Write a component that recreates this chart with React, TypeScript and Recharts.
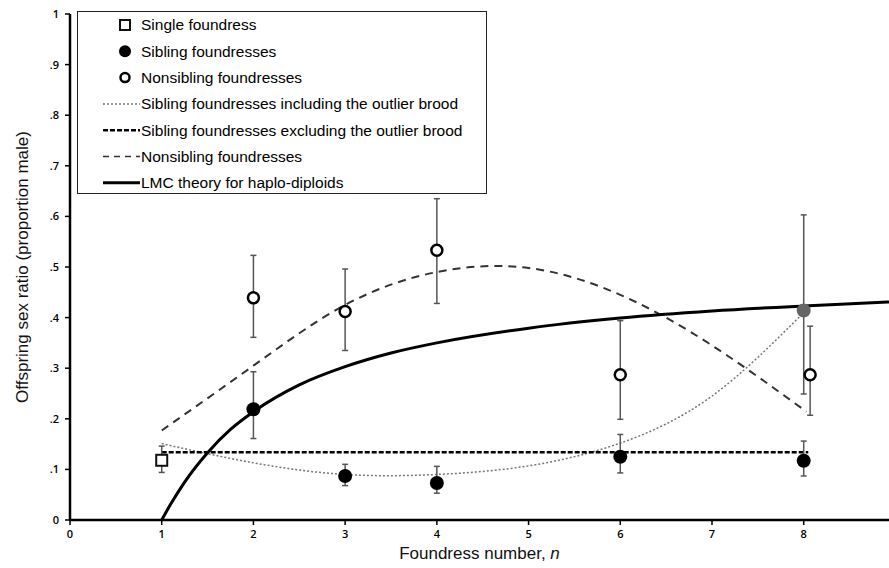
import {
  ComposedChart,
  Line,
  Scatter,
  ErrorBar,
  XAxis,
  YAxis,
  Legend,
  Label,
} from "recharts";

// x ticks / y ticks
const xTicks = [0, 1, 2, 3, 4, 5, 6, 7, 8];
const yTicks = [0, 0.1, 0.2, 0.3, 0.4, 0.5, 0.6, 0.7, 0.8, 0.9, 1];

// observed broods: mean and error bar ends
const singleX = [1];
const singleY = [0.118];
const singleLo = [0.094];
const singleHi = [0.146];

const siblingX = [2, 3, 4, 6, 8];
const siblingY = [0.219, 0.087, 0.073, 0.125, 0.117];
const siblingLo = [0.161, 0.068, 0.053, 0.093, 0.087];
const siblingHi = [0.293, 0.11, 0.106, 0.169, 0.156];

const outlierX = [8];
const outlierY = [0.414];
const outlierLo = [0.249];
const outlierHi = [0.603];

const nonsibX = [2, 3, 4, 6, 8.07];
const nonsibY = [0.439, 0.412, 0.533, 0.287, 0.287];
const nonsibLo = [0.361, 0.335, 0.428, 0.199, 0.207];
const nonsibHi = [0.523, 0.496, 0.635, 0.394, 0.383];

// fitted curves
const sibInclX = [1, 2, 3, 4, 5, 6, 7, 8];
const sibInclY = [0.151, 0.113, 0.09, 0.09, 0.107, 0.152, 0.245, 0.41];

const sibExclX = [1, 8.05];
const sibExclY = [0.134, 0.134];

const nonsibFitX = [1, 2, 3, 4, 5, 6, 7, 8.03];
const nonsibFitY = [0.177, 0.305, 0.425, 0.49, 0.498, 0.445, 0.345, 0.214];

const lmcX = [1, 1.1, 1.25, 1.5, 1.75, 2, 2.5, 3, 3.5, 4, 5, 6, 7, 8, 8.93];
const lmcY = [0, 0.032, 0.075, 0.133, 0.179, 0.214, 0.267, 0.303, 0.33, 0.35, 0.379, 0.399, 0.413, 0.423, 0.431];

const legendLabels = [
  "Single foundress",
  "Sibling foundresses",
  "Nonsibling foundresses",
  "Sibling foundresses including the outlier brood",
  "Sibling foundresses excluding the outlier brood",
  "Nonsibling foundresses",
  "LMC theory for haplo-diploids",
];

const toLine = (xs: number[], ys: number[]) => xs.map((x, i) => ({ x, y: ys[i] }));
const toPoints = (xs: number[], ys: number[], lo: number[], hi: number[]) =>
  xs.map((x, i) => ({ x, y: ys[i], err: [ys[i] - lo[i], hi[i] - ys[i]] }));

const SquareDot = (p: any) => (
  <rect x={p.cx - 5.5} y={p.cy - 5.5} width={11} height={11} fill="#fff" stroke="#111" strokeWidth={2} />
);
const FilledDot = (p: any) => <circle cx={p.cx} cy={p.cy} r={7} fill="#000" />;
const GreyDot = (p: any) => <circle cx={p.cx} cy={p.cy} r={7} fill="#666" />;
const OpenDot = (p: any) => (
  <circle cx={p.cx} cy={p.cy} r={5.5} fill="#fff" stroke="#000" strokeWidth={2.5} />
);

function LegendBox() {
  const rowY = (i: number) => 13 + i * 26.3;
  return (
    <div
      style={{
        width: 410,
        height: 183,
        boxSizing: "border-box",
        border: "1.5px solid #222",
        background: "#fff",
      }}
    >
      <svg width={407} height={180} style={{ display: "block" }}>
        <rect x={42} y={rowY(0) - 5} width={10} height={10} fill="#fff" stroke="#111" strokeWidth={2} />
        <circle cx={47} cy={rowY(1)} r={6} fill="#000" />
        <circle cx={47} cy={rowY(2)} r={4.5} fill="#fff" stroke="#000" strokeWidth={2.5} />
        <line x1={25} x2={62} y1={rowY(3)} y2={rowY(3)} stroke="#777" strokeWidth={1.5} strokeDasharray="2 2" />
        <line x1={25} x2={62} y1={rowY(4)} y2={rowY(4)} stroke="#000" strokeWidth={2.5} strokeDasharray="5 2" />
        <line x1={25} x2={62} y1={rowY(5)} y2={rowY(5)} stroke="#333" strokeWidth={1.5} strokeDasharray="6 5" />
        <line x1={25} x2={62} y1={rowY(6)} y2={rowY(6)} stroke="#000" strokeWidth={3} />
        {legendLabels.map((t, i) => (
          <text
            key={i}
            x={63}
            y={rowY(i)}
            dy="0.35em"
            fontFamily="Liberation Sans, Arial, sans-serif"
            fontSize={15.5}
            fill="#000"
          >
            {t}
          </text>
        ))}
      </svg>
    </div>
  );
}

const tickStyle = { fontSize: 11, fill: "#000", fontFamily: "Open Sans, sans-serif", fontWeight: 600 };
const fmtY = (v: number) => (v === 0 ? "0" : v === 1 ? "1" : String(Math.round(v * 10) / 10).replace(/^0/, ""));

export default function App() {
  return (
    <div style={{ position: "absolute", left: 0, top: 0, background: "#fff" }}>
      <ComposedChart width={889} height={568} margin={{ top: 14, right: 0, bottom: 18, left: 30 }}>
        <XAxis
          type="number"
          dataKey="x"
          domain={[0, 8.93]}
          ticks={xTicks}
          allowDataOverflow
          height={30}
          tick={tickStyle}
          tickSize={5}
          tickMargin={5}
          axisLine={{ stroke: "#000", strokeWidth: 2.5 }}
          tickLine={{ stroke: "#000", strokeWidth: 1.5 }}
        >
          <Label
            content={({ viewBox }: any) => (
              <text
                x={viewBox.x + viewBox.width / 2}
                y={viewBox.y + 39}
                textAnchor="middle"
                fontFamily="Liberation Sans, Arial, sans-serif"
                fontSize={17}
                fill="#111"
              >
                Foundress number, <tspan fontStyle="italic">n</tspan>
              </text>
            )}
          />
        </XAxis>
        <YAxis
          type="number"
          dataKey="y"
          domain={[0, 1]}
          ticks={yTicks}
          width={40}
          tick={tickStyle}
          tickFormatter={fmtY}
          tickSize={5}
          tickMargin={6}
          axisLine={{ stroke: "#000", strokeWidth: 2.5 }}
          tickLine={{ stroke: "#000", strokeWidth: 1.5 }}
        >
          <Label
            content={({ viewBox }: any) => {
              const cx = viewBox.x - 8;
              const cy = viewBox.y + viewBox.height / 2;
              return (
                <text
                  x={cx}
                  y={cy}
                  transform={`rotate(-90 ${cx} ${cy})`}
                  textAnchor="middle"
                  dominantBaseline="central"
                  fontFamily="Liberation Sans, Arial, sans-serif"
                  fontSize={17}
                  fill="#111"
                >
                  Offspring sex ratio (proportion male)
                </text>
              );
            }}
          />
        </YAxis>
        <Legend
          layout="vertical"
          align="center"
          verticalAlign="middle"
          content={() => <LegendBox />}
          wrapperStyle={{ left: 77, top: 11, width: 410, height: 183 }}
        />

        <Line
          data={toLine(sibInclX, sibInclY)}
          dataKey="y"
          type="natural"
          stroke="#777"
          strokeWidth={1.5}
          strokeDasharray="2 2"
          dot={false}
          activeDot={false}
          isAnimationActive={false}
        />
        <Line
          data={toLine(sibExclX, sibExclY)}
          dataKey="y"
          type="linear"
          stroke="#000"
          strokeWidth={2.5}
          strokeDasharray="5 2"
          dot={false}
          activeDot={false}
          isAnimationActive={false}
        />
        <Line
          data={toLine(nonsibFitX, nonsibFitY)}
          dataKey="y"
          type="natural"
          stroke="#333"
          strokeWidth={2}
          strokeDasharray="8 6"
          dot={false}
          activeDot={false}
          isAnimationActive={false}
        />
        <Line
          data={toLine(lmcX, lmcY)}
          dataKey="y"
          type="monotone"
          stroke="#000"
          strokeWidth={3}
          dot={false}
          activeDot={false}
          isAnimationActive={false}
        />

        <Scatter data={toPoints(outlierX, outlierY, outlierLo, outlierHi)} shape={GreyDot} isAnimationActive={false}>
          <ErrorBar dataKey="err" direction="y" width={3} stroke="#555" strokeWidth={1.5} />
        </Scatter>
        <Scatter data={toPoints(nonsibX, nonsibY, nonsibLo, nonsibHi)} shape={OpenDot} isAnimationActive={false}>
          <ErrorBar dataKey="err" direction="y" width={3} stroke="#555" strokeWidth={1.5} />
        </Scatter>
        <Scatter data={toPoints(siblingX, siblingY, siblingLo, siblingHi)} shape={FilledDot} isAnimationActive={false}>
          <ErrorBar dataKey="err" direction="y" width={3} stroke="#555" strokeWidth={1.5} />
        </Scatter>
        <Scatter data={toPoints(singleX, singleY, singleLo, singleHi)} shape={SquareDot} isAnimationActive={false}>
          <ErrorBar dataKey="err" direction="y" width={3} stroke="#555" strokeWidth={1.5} />
        </Scatter>
      </ComposedChart>
    </div>
  );
}
